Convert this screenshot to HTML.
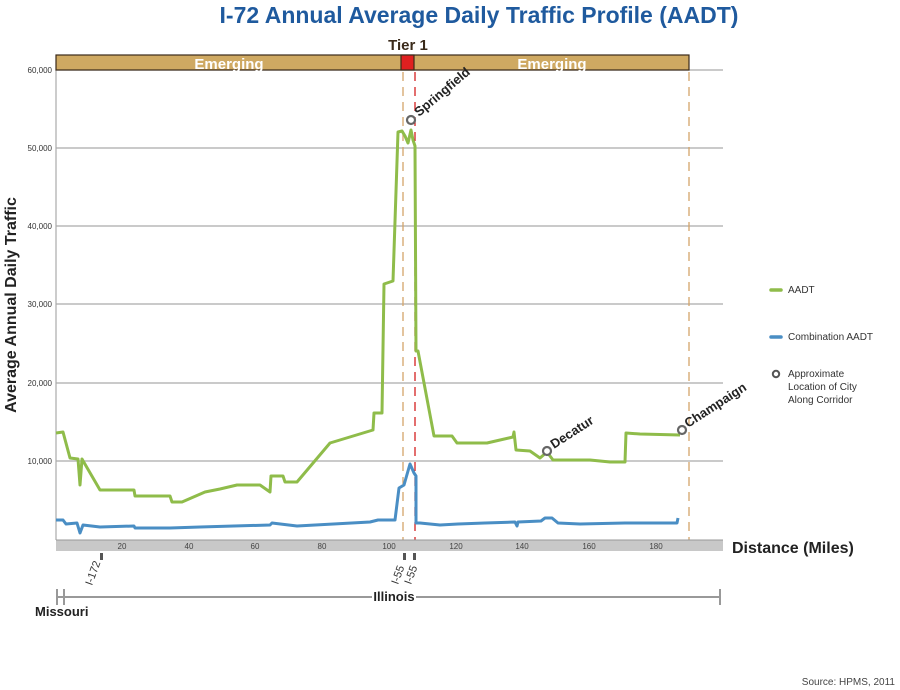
<!DOCTYPE html>
<html><head><meta charset="utf-8"><style>
html,body{margin:0;padding:0;background:#fff;}
svg{display:block;font-family:"Liberation Sans",sans-serif;}
</style></head><body>
<svg width="900" height="690" viewBox="0 0 900 690" xmlns="http://www.w3.org/2000/svg">
<text x="479" y="23" text-anchor="middle" font-size="23" font-weight="bold" fill="#1f5a9e">I-72 Annual Average Daily Traffic Profile (AADT)</text>
<g stroke="#aaa" stroke-width="1.2">
<line x1="56" y1="148" x2="723" y2="148"/><line x1="56" y1="226" x2="723" y2="226"/>
<line x1="56" y1="304" x2="723" y2="304"/><line x1="56" y1="383" x2="723" y2="383"/>
<line x1="56" y1="461" x2="723" y2="461"/><line x1="56" y1="70" x2="723" y2="70"/>
<line x1="56" y1="70" x2="56" y2="540"/>
</g>
<g font-size="8" fill="#333" text-anchor="end">
<text x="52" y="73">60,000</text><text x="52" y="151">50,000</text><text x="52" y="229">40,000</text>
<text x="52" y="307">30,000</text><text x="52" y="386">20,000</text><text x="52" y="464">10,000</text>
</g>
<text transform="translate(16,305) rotate(-90)" text-anchor="middle" font-size="16" font-weight="bold" fill="#222">Average Annual Daily Traffic</text>
<rect x="56" y="55" width="633" height="15" fill="#cfa962" stroke="#3a2a1a" stroke-width="1.2"/>
<rect x="401" y="55" width="13" height="15" fill="#e02020" stroke="#3a2a1a" stroke-width="1.2"/>
<text x="229" y="69" text-anchor="middle" font-size="15" font-weight="bold" fill="#fff">Emerging</text>
<text x="552" y="69" text-anchor="middle" font-size="15" font-weight="bold" fill="#fff">Emerging</text>
<text x="408" y="50" text-anchor="middle" font-size="15" font-weight="bold" fill="#3a2a1a">Tier 1</text>
<g stroke-width="1.3" stroke-dasharray="9,6">
<line x1="403" y1="72" x2="403" y2="540" stroke="#d4a46a"/>
<line x1="415" y1="72" x2="415" y2="540" stroke="#d42020"/>
<line x1="689" y1="72" x2="689" y2="540" stroke="#d4a46a"/>
</g>
<rect x="56" y="540" width="667" height="11" fill="#c8c8c8"/>
<line x1="56" y1="540" x2="723" y2="540" stroke="#999"/>
<g font-size="8" fill="#444" text-anchor="middle">
<text x="122" y="549">20</text><text x="189" y="549">40</text><text x="255" y="549">60</text><text x="322" y="549">80</text>
<text x="389" y="549">100</text><text x="456" y="549">120</text><text x="522" y="549">140</text><text x="589" y="549">160</text><text x="656" y="549">180</text>
</g>
<text x="732" y="553" font-size="16" font-weight="bold" fill="#222">Distance (Miles)</text>
<polyline fill="none" stroke="#8fbc4a" stroke-width="3" stroke-linejoin="round" points="56,433 63,432 70,458 78,459 80,485 82,459 100,490 134,490 135,496 170,496 172,502 182,502 205,492 220,489 237,485 260,485 270,492 271,476 283,476 285,482 297,482 330,443 373,430 374,413 382,413 384,284 393,281 398,132 402,131 405,136 408,143 411,130 413,140 415,146 416,351 418,351 434,436 452,436 457,443 487,443 513,437 514,432 516,450 530,451 540,458 547,452 553,460 580,460 590,460 610,462 625,462 626,433 640,434 680,435"/>
<polyline fill="none" stroke="#4a8ec4" stroke-width="3" stroke-linejoin="round" points="56,520 63,520 66,524 77,523 80,533 83,525 100,527 134,526 135,528 170,528 200,527 270,525 272,523 297,526 370,522 378,520 383,520 385,520 395,520 399,488 404,485 410,464 414,473 416,476 416,523 420,523 440,525 458,524 485,523 515,522 517,526 518,522 541,521 545,518 552,518 558,523 580,524 625,523 677,523 678,518"/>
<g fill="#fff" stroke="#666" stroke-width="2.2">
<circle cx="411" cy="120" r="4"/><circle cx="547" cy="451" r="4"/><circle cx="682" cy="430" r="4"/>
</g>
<g font-size="13" font-weight="bold" fill="#222">
<text transform="translate(419,117) rotate(-40)">Springfield</text>
<text transform="translate(554,449) rotate(-33)">Decatur</text>
<text transform="translate(688,428) rotate(-33)">Champaign</text>
</g>
<line x1="771" y1="290" x2="781" y2="290" stroke="#8fbc4a" stroke-width="3.5" stroke-linecap="round"/>
<text x="788" y="293" font-size="10" fill="#333">AADT</text>
<line x1="771" y1="337" x2="781" y2="337" stroke="#4a8ec4" stroke-width="3.5" stroke-linecap="round"/>
<text x="788" y="340" font-size="10" fill="#333">Combination AADT</text>
<circle cx="776" cy="374" r="3.2" fill="#fff" stroke="#555" stroke-width="2"/>
<text font-size="10" fill="#333"><tspan x="788" y="377">Approximate</tspan><tspan x="788" y="390">Location of City</tspan><tspan x="788" y="403">Along Corridor</tspan></text>
<g fill="#555"><rect x="100" y="553" width="3" height="7"/><rect x="403" y="553" width="3" height="7"/><rect x="413" y="553" width="3" height="7"/></g>
<g font-size="11" fill="#333">
<text transform="translate(92,586) rotate(-70)">I-172</text>
<text transform="translate(398,585) rotate(-70)">I-55</text>
<text transform="translate(411,585) rotate(-70)">I-55</text>
</g>
<g stroke="#999" stroke-width="2">
<line x1="56" y1="597" x2="372" y2="597"/><line x1="416" y1="597" x2="720" y2="597"/>
<line x1="57" y1="589" x2="57" y2="605"/><line x1="64" y1="589" x2="64" y2="605"/><line x1="720" y1="589" x2="720" y2="605"/>
</g>
<text x="394" y="601" text-anchor="middle" font-size="13" font-weight="bold" fill="#222">Illinois</text>
<text x="35" y="616" font-size="13" font-weight="bold" fill="#222">Missouri</text>
<text x="895" y="685" text-anchor="end" font-size="10" fill="#444">Source: HPMS, 2011</text>
</svg>
</body></html>
